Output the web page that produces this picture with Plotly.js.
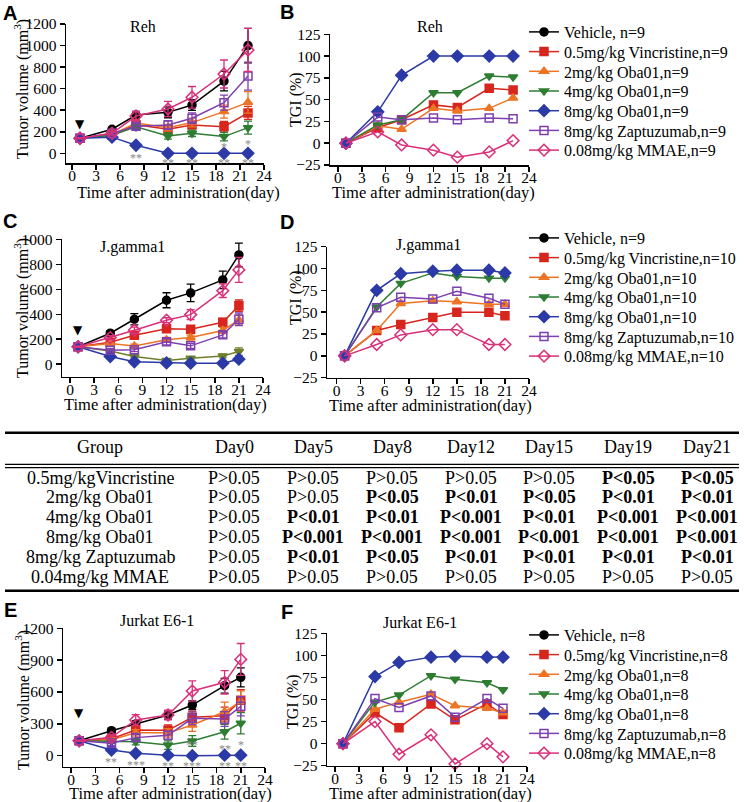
<!DOCTYPE html>
<html>
<head>
<meta charset="utf-8">
<script src="https://cdn.plot.ly/plotly-3.0.1.min.js"></script>
<style>html,body{margin:0;padding:0;background:#fff;}#chart{width:744px;height:802px;}</style>
</head>
<body>
<div id="chart"></div>
<script>
// ---------------- DATA ----------------
const GROUPS = ['Vehicle', '0.5mg/kg Vincristine', '2mg/kg Oba01', '4mg/kg Oba01', '8mg/kg Oba01', '8mg/kg Zaptuzumab', '0.08mg/kg MMAE'];
const N_REH = [9, 9, 9, 9, 9, 9, 9];
const N_JG = [9, 10, 10, 10, 10, 10, 10];
const N_JK = [8, 8, 8, 8, 8, 8, 8];

const DAYS_REH = [1, 5, 8, 12, 15, 19, 22];
const DAYS_JG = [1, 5, 8, 12, 15, 19, 21];
const DAYS_JK = [1, 5, 8, 12, 15, 19, 21];

const X_TICKS = [0, 3, 6, 9, 12, 15, 18, 21, 24];
const TGI_TICKS = [-25, 0, 25, 50, 75, 100, 125];
const REH_VOL_TICKS = [0, 200, 400, 600, 800, 1000, 1200];
const JG_VOL_TICKS = [0, 200, 400, 600, 800, 1000];
const JK_VOL_TICKS = [0, 300, 600, 900, 1200];

// Reh tumor volume (mm3) and SEM
const REH_VEH = [140, 223, 355, 380, 448, 670, 1000];
const REH_VIN = [140, 170, 265, 223, 263, 247, 375];
const REH_OBA2 = [140, 172, 280, 238, 285, 387, 473];
const REH_OBA4 = [140, 168, 245, 161, 186, 155, 238];
const REH_OBA8 = [140, 150, 75, 0, 0, 0, 0];
const REH_ZAP = [140, 185, 250, 263, 325, 470, 717];
const REH_MMAE = [140, 186, 346, 411, 520, 736, 959];
const REH_VEH_ERR = [5, 15, 35, 50, 50, 90, 160];
const REH_VIN_ERR = [5, 15, 30, 25, 30, 50, 60];
const REH_OBA2_ERR = [5, 15, 30, 30, 40, 60, 100];
const REH_OBA4_ERR = [5, 15, 30, 30, 30, 40, 60];
const REH_OBA8_ERR = [5, 10, 10, 0, 0, 0, 0];
const REH_ZAP_ERR = [5, 15, 25, 40, 50, 70, 130];
const REH_MMAE_ERR = [5, 15, 40, 70, 100, 130, 200];

// Reh TGI (%) (Vehicle has no TGI curve: legend entry only)
const TGI_VEH_NONE = [null];
const TGI_REH_VIN = [0, 18, 27, 44, 41, 63, 61];
const TGI_REH_OBA2 = [0, 20, 16, 40, 37, 40, 52];
const TGI_REH_OBA4 = [0, 21, 27, 58, 58, 77, 76];
const TGI_REH_OBA8 = [0, 36, 78, 100, 100, 100, 100];
const TGI_REH_ZAP = [0, 30, 27, 29, 27, 29, 28];
const TGI_REH_MMAE = [0, 13, -2, -8, -16, -10, 3];

// J.gamma1 tumor volume and SEM
const JG_VEH = [140, 248, 360, 512, 571, 675, 875];
const JG_VIN = [140, 176, 232, 283, 280, 336, 469];
const JG_OBA2 = [140, 165, 145, 195, 213, 270, 355];
const JG_OBA4 = [140, 105, 61, 29, 48, 65, 101];
const JG_OBA8 = [140, 61, 19, 10, 8, 8, 40];
const JG_ZAP = [140, 112, 115, 179, 147, 235, 360];
const JG_MMAE = [140, 213, 272, 352, 397, 589, 755];
const JG_VEH_ERR = [5, 20, 45, 60, 70, 70, 95];
const JG_VIN_ERR = [5, 15, 20, 25, 20, 30, 45];
const JG_OBA2_ERR = [5, 10, 15, 20, 20, 25, 40];
const JG_OBA4_ERR = [5, 10, 10, 10, 10, 15, 30];
const JG_OBA8_ERR = [5, 10, 5, 5, 5, 5, 15];
const JG_ZAP_ERR = [5, 15, 15, 25, 20, 25, 50];
const JG_MMAE_ERR = [5, 15, 25, 20, 40, 55, 100];

// J.gamma1 TGI
const TGI_JG_VIN = [0, 29, 36, 44, 50, 50, 46];
const TGI_JG_OBA2 = [0, 29, 60, 63, 62, 59, 59];
const TGI_JG_OBA4 = [0, 56, 83, 95, 91, 89, 89];
const TGI_JG_OBA8 = [0, 75, 94, 97, 98, 98, 95];
const TGI_JG_ZAP = [0, 55, 67, 65, 74, 66, 59];
const TGI_JG_MMAE = [0, 13, 24, 30, 30, 13, 13];

// Jurkat E6-1 tumor volume and SEM
const JK_VEH = [140, 235, 298, 383, 477, 659, 738];
const JK_VIN = [140, 160, 242, 239, 361, 377, 521];
const JK_OBA2 = [140, 150, 215, 215, 289, 414, 510];
const JK_OBA4 = [140, 135, 132, 100, 138, 226, 305];
const JK_OBA8 = [140, 53, 22, 5, 0, 5, 5];
const JK_ZAP = [140, 116, 170, 192, 352, 345, 465];
const JK_MMAE = [140, 173, 336, 383, 609, 691, 907];
const JK_VEH_ERR = [5, 25, 30, 40, 40, 70, 90];
const JK_VIN_ERR = [5, 20, 40, 50, 60, 80, 100];
const JK_OBA2_ERR = [5, 20, 30, 40, 60, 90, 100];
const JK_OBA4_ERR = [5, 20, 30, 40, 50, 70, 100];
const JK_OBA8_ERR = [5, 10, 10, 5, 5, 5, 5];
const JK_ZAP_ERR = [5, 20, 30, 40, 60, 70, 90];
const JK_MMAE_ERR = [5, 25, 50, 45, 95, 110, 150];

// Jurkat E6-1 TGI
const TGI_JK_VIN = [0, 35, 18, 45, 27, 45, 33];
const TGI_JK_OBA2 = [0, 39, 47, 56, 43, 40, 35];
const TGI_JK_OBA4 = [0, 47, 55, 77, 73, 69, 61];
const TGI_JK_OBA8 = [0, 76, 92, 98, 99, 98, 98];
const TGI_JK_ZAP = [0, 51, 41, 54, 30, 51, 40];
const TGI_JK_MMAE = [0, 25, -12, 10, -23, 0, -15];

// significance marks (day, value, text)
const STAR_A_DAY = [8, 12, 15, 19, 19, 22, 22];
const STAR_A_VAL = [-15, -65, -65, -65, 85, -65, 115];
const STAR_A_TXT = ['**', '**', '**', '**', '*', '**', '*'];
const STAR_E_DAY = [5, 8, 12, 15, 15, 19, 19, 21, 21];
const STAR_E_VAL = [-31, -57, -72, 132, -72, 94, -72, 132, -72];
const STAR_E_TXT = ['**', '***', '**', '**', '***', '**', '**', '*', '**'];

// dosing arrow (day, volume)
const DOSE_DAY = 1;
const DOSE_A = 270, DOSE_C = 276, DOSE_E = 404;

// table
const TABLE_HEADER = ['Group', 'Day0', 'Day5', 'Day8', 'Day12', 'Day15', 'Day19', 'Day21'];
const TABLE_GROUPS = ['0.5mg/kgVincristine', '2mg/kg Oba01', '4mg/kg Oba01', '8mg/kg Oba01', '8mg/kg Zaptuzumab', '0.04mg/kg MMAE'];
const TABLE_P = [
  ['P>0.05', 'P>0.05', 'P>0.05', 'P>0.05', 'P>0.05', 'P<0.05', 'P<0.05'],
  ['P>0.05', 'P>0.05', 'P<0.05', 'P<0.01', 'P<0.05', 'P<0.01', 'P<0.01'],
  ['P>0.05', 'P<0.01', 'P<0.01', 'P<0.001', 'P<0.01', 'P<0.001', 'P<0.001'],
  ['P>0.05', 'P<0.001', 'P<0.001', 'P<0.001', 'P<0.001', 'P<0.001', 'P<0.001'],
  ['P>0.05', 'P<0.01', 'P<0.05', 'P<0.01', 'P<0.01', 'P<0.01', 'P<0.01'],
  ['P>0.05', 'P>0.05', 'P>0.05', 'P>0.05', 'P>0.05', 'P>0.05', 'P>0.05']
];

// ---------------- STYLE ----------------
const W = 744, H = 802;
const SERIF = 'Liberation Serif, Times New Roman, serif';
const SANS = 'Liberation Sans, Arial, sans-serif';
const COLORS = ['#000000', '#d7261e', '#ec7424', '#2e7d32', '#2b3aa6', '#7e3fb0', '#d9307a'];
const COLORS_C = ['#000000', '#d7261e', '#ec7424', '#6e7f2a', '#2b3aa6', '#7e3fb0', '#d9307a'];
const SYMBOLS = ['circle', 'square', 'triangle-up', 'triangle-down', 'diamond', 'square-open', 'diamond-open'];
const MSIZE = [8, 8, 8, 8, 9, 8, 9];
const LEGEND_ROW = 19.7;

const px = v => v / W;
const py = v => 1 - v / H;

function volTraces(days, series, errs, xa, ya, colors) {
  return series.map((s, i) => ({
    type: 'scatter', mode: 'lines+markers', x: days, y: s, xaxis: xa, yaxis: ya,
    name: GROUPS[i], showlegend: false, cliponaxis: false,
    line: {color: colors[i], width: 1.5},
    marker: {symbol: SYMBOLS[i], size: MSIZE[i], color: colors[i], line: {color: colors[i], width: 1.5}},
    error_y: {type: 'data', array: errs[i], visible: true, color: colors[i], thickness: 1.3, width: 4}
  }));
}
function tgiTraces(days, series, ns, xa, ya, legend) {
  return series.map((s, i) => ({
    type: 'scatter', mode: 'lines+markers', x: s.length === days.length ? days : s, y: s, xaxis: xa, yaxis: ya,
    name: (i === 0 ? GROUPS[i] + ', n=' : GROUPS[i] + ',n=') + ns[i],
    legend: legend, showlegend: true, cliponaxis: false,
    line: {color: COLORS[i], width: 1.5},
    marker: {symbol: SYMBOLS[i], size: MSIZE[i], color: COLORS[i], line: {color: COLORS[i], width: 1.5}}
  }));
}

const traces = [].concat(
  volTraces(DAYS_REH, [REH_VEH, REH_VIN, REH_OBA2, REH_OBA4, REH_OBA8, REH_ZAP, REH_MMAE],
    [REH_VEH_ERR, REH_VIN_ERR, REH_OBA2_ERR, REH_OBA4_ERR, REH_OBA8_ERR, REH_ZAP_ERR, REH_MMAE_ERR], 'x', 'y', COLORS),
  tgiTraces(DAYS_REH, [TGI_VEH_NONE, TGI_REH_VIN, TGI_REH_OBA2, TGI_REH_OBA4, TGI_REH_OBA8, TGI_REH_ZAP, TGI_REH_MMAE], N_REH, 'x2', 'y2', 'legend'),
  volTraces(DAYS_JG, [JG_VEH, JG_VIN, JG_OBA2, JG_OBA4, JG_OBA8, JG_ZAP, JG_MMAE],
    [JG_VEH_ERR, JG_VIN_ERR, JG_OBA2_ERR, JG_OBA4_ERR, JG_OBA8_ERR, JG_ZAP_ERR, JG_MMAE_ERR], 'x3', 'y3', COLORS_C),
  tgiTraces(DAYS_JG, [TGI_VEH_NONE, TGI_JG_VIN, TGI_JG_OBA2, TGI_JG_OBA4, TGI_JG_OBA8, TGI_JG_ZAP, TGI_JG_MMAE], N_JG, 'x4', 'y4', 'legend2'),
  volTraces(DAYS_JK, [JK_VEH, JK_VIN, JK_OBA2, JK_OBA4, JK_OBA8, JK_ZAP, JK_MMAE],
    [JK_VEH_ERR, JK_VIN_ERR, JK_OBA2_ERR, JK_OBA4_ERR, JK_OBA8_ERR, JK_ZAP_ERR, JK_MMAE_ERR], 'x5', 'y5', COLORS),
  tgiTraces(DAYS_JK, [TGI_VEH_NONE, TGI_JK_VIN, TGI_JK_OBA2, TGI_JK_OBA4, TGI_JK_OBA8, TGI_JK_ZAP, TGI_JK_MMAE], N_JK, 'x6', 'y6', 'legend3')
);

function xAxis(l, r, range, anchor) {
  return {domain: [px(l), px(r)], range: range, anchor: anchor, showline: true, linecolor: '#000', linewidth: 1.5,
    ticks: 'outside', ticklen: 5, tickwidth: 1.5, tickcolor: '#000', tickvals: X_TICKS, showgrid: false, zeroline: false,
    ticklabelstandoff: -7,
    tickfont: {family: SERIF, size: 15.5, color: '#000'}, fixedrange: true};
}
function yAxis(top, bottom, range, tickvals, anchor) {
  return {domain: [py(bottom), py(top)], range: range, anchor: anchor, showline: true, linecolor: '#000', linewidth: 1.5,
    ticks: 'outside', ticklen: 5, tickwidth: 1.5, tickcolor: '#000', tickvals: tickvals, showgrid: false, zeroline: false,
    tickfont: {family: SERIF, size: 15.5, color: '#000'}, fixedrange: true};
}

const ann = [];
function txt(x, y, text, size, opts) {
  ann.push(Object.assign({xref: 'paper', yref: 'paper', x: px(x), y: py(y), text: text, showarrow: false,
    xanchor: 'center', yanchor: 'middle', font: {family: SERIF, size: size, color: '#000'}}, opts || {}));
}
// panel letters
[['A', 10, 13], ['B', 287, 12], ['C', 10, 221], ['D', 287, 222], ['E', 10, 610], ['F', 287, 612]].forEach(l =>
  txt(l[1], l[2], '<b>' + l[0] + '</b>', 20, {font: {family: SANS, size: 20, color: '#000'}}));
// panel titles
txt(143, 27, 'Reh', 16); txt(430, 27, 'Reh', 16);
txt(132, 247, 'J.gamma1', 16); txt(428, 245, 'J.gamma1', 16);
txt(157, 620, 'Jurkat E6-1', 16); txt(420, 622, 'Jurkat E6-1', 16);
// axis titles
const XT = 'Time after administration(day)';
txt(178, 193, XT, 16.5); txt(433, 193, XT, 16.5);
txt(165, 404, XT, 16.5); txt(430, 405, XT, 16.5);
txt(170, 793, XT, 16.5); txt(430, 793, XT, 16.5);
const YT = 'Tumor volume (mm<sup>3</sup>)';
txt(21, 89, YT, 16, {textangle: -90}); txt(21, 308, YT, 16, {textangle: -90}); txt(22, 700, YT, 16, {textangle: -90});
txt(296, 100, 'TGI (%)', 16, {textangle: -90}); txt(296, 298, 'TGI (%)', 16, {textangle: -90}); txt(293, 702, 'TGI (%)', 16, {textangle: -90});
// dosing arrows
[['x', 'y', DOSE_A], ['x3', 'y3', DOSE_C], ['x5', 'y5', DOSE_E]].forEach(d => ann.push({xref: d[0], yref: d[1], x: DOSE_DAY, y: d[2],
  text: '▼', showarrow: false, font: {family: 'DejaVu Sans', size: 12, color: '#000'}}));
// stars
STAR_A_DAY.forEach((d, i) => ann.push({xref: 'x', yref: 'y', x: d, y: STAR_A_VAL[i], text: STAR_A_TXT[i], showarrow: false, yshift: -3,
  font: {family: SERIF, size: 12, color: '#8a8a8a'}}));
STAR_E_DAY.forEach((d, i) => ann.push({xref: 'x5', yref: 'y5', x: d, y: STAR_E_VAL[i], text: STAR_E_TXT[i], showarrow: false, yshift: -3,
  font: {family: SERIF, size: 12, color: '#8a8a8a'}}));
// table text
const COL_X = [100, 234, 313, 392, 471, 549, 628, 707];
const HEAD_Y = 447;
const ROW_Y0 = 477.5, ROW_DY = 19.8;
const TFS = 18;
TABLE_HEADER.forEach((h, j) => txt(COL_X[j], HEAD_Y, h, TFS));
TABLE_GROUPS.forEach((g, i) => {
  const y = ROW_Y0 + i * ROW_DY;
  txt(COL_X[0], y, g, TFS);
  TABLE_P[i].forEach((p, j) => txt(COL_X[j + 1], y, p.startsWith('P<') ? '<b>' + p + '</b>' : p, TFS));
});
const line = (y, w) => ({type: 'line', xref: 'paper', yref: 'paper', x0: px(5), x1: px(739), y0: py(y), y1: py(y), line: {color: '#000', width: w}});
const shapes = [line(432.7, 2.5), line(464.3, 1.3), line(467.6, 1.3), line(590.7, 2.5)];

const legendBase = (top) => ({x: px(524), y: py(top), xanchor: 'left', yanchor: 'top', bgcolor: 'rgba(0,0,0,0)',
  font: {family: SERIF, size: 16, color: '#000'}, tracegroupgap: 0, borderwidth: 0});

const layout = {
  width: W, height: H, margin: {l: 0, r: 0, t: 0, b: 0}, paper_bgcolor: '#fff', plot_bgcolor: 'rgba(0,0,0,0)',
  font: {family: SERIF, color: '#000'}, showlegend: true,
  xaxis: xAxis(66, 264, [-0.75, 24], 'y'), yaxis: yAxis(24, 163, [-90, 1200], REH_VOL_TICKS, 'x'),
  xaxis2: xAxis(330, 529, [-1, 24], 'y2'), yaxis2: yAxis(34.3, 165, [-25, 125], TGI_TICKS, 'x2'),
  xaxis3: xAxis(62, 263, [-1, 24], 'y3'), yaxis3: yAxis(239.3, 376.7, [-100, 1000], JG_VOL_TICKS, 'x3'),
  xaxis4: xAxis(327, 529, [-1.2, 24], 'y4'), yaxis4: yAxis(246.7, 377.7, [-25, 125], TGI_TICKS, 'x4'),
  xaxis5: xAxis(63, 265, [-1, 24], 'y5'), yaxis5: yAxis(628.3, 766.7, [-104, 1200], JK_VOL_TICKS, 'x5'),
  xaxis6: xAxis(327, 527, [-1, 24], 'y6'), yaxis6: yAxis(633.3, 765.7, [-25, 125], TGI_TICKS, 'x6'),
  legend: legendBase(15), legend2: legendBase(221), legend3: legendBase(618),
  annotations: ann, shapes: shapes
};

Plotly.newPlot('chart', traces, layout, {displayModeBar: false, staticPlot: true}).then(gd => {
  // tighten the legend row spacing to match the original figure
  gd.querySelectorAll('g.legend, g.legend2, g.legend3').forEach(lg => {
    let y0 = null;
    lg.querySelectorAll('g.traces').forEach((it, i) => {
      const m = /translate\(\s*([-\d.e]+)[ ,]+([-\d.e]+)\s*\)/.exec(it.getAttribute('transform') || '');
      if (!m) return;
      if (y0 === null) y0 = +m[2];
      it.setAttribute('transform', 'translate(' + m[1] + ',' + (y0 + i * LEGEND_ROW) + ')');
    });
  });
});
</script>
</body>
</html>
